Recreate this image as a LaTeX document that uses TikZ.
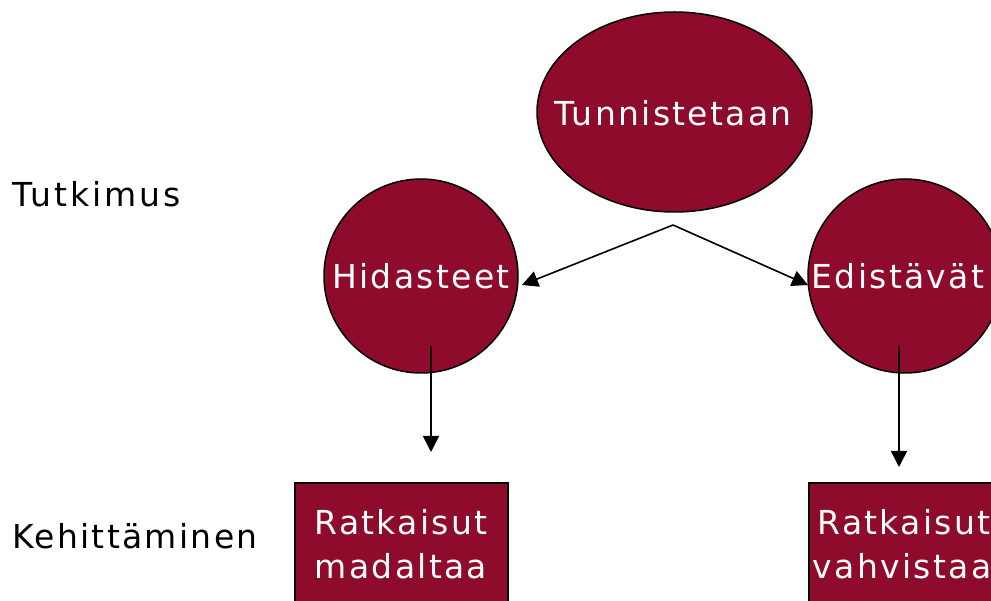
\documentclass[tikz,border=0pt]{standalone}
\usepackage{fontspec}
\setmainfont[LetterSpace=7]{DejaVu Sans}
\usetikzlibrary{shapes.geometric,arrows.meta}
\definecolor{maroon}{RGB}{142,11,44}
\tikzset{
  blob/.style={fill=maroon,draw=black,line width=1.5pt,inner sep=0pt},
  boxnode/.style={fill=maroon,draw=black,line width=1.5pt,inner sep=0pt,anchor=north west},
  lbl/.style={inner sep=0pt,font=\fontsize{33}{44}\selectfont,anchor=base west},
  wtxt/.style={inner sep=0pt,text=white,font=\fontsize{33}{44}\selectfont,anchor=base},
  arr/.style={line width=1.6pt,-{Triangle[length=16pt,width=16pt]}}
}
\begin{document}
\begin{tikzpicture}[x=1pt,y=-1pt]
\useasboundingbox (0,0) rectangle (991,601);
\begin{scope}
\clip (0,0) rectangle (991,601);
\node[blob,ellipse,minimum width=275pt,minimum height=200pt] (tun) at (674.5,112) {};
\node[blob,circle,minimum size=194pt] (hid) at (421,276) {};
\node[blob,circle,minimum size=194pt] (edi) at (905,276) {};
\node[boxnode,minimum width=213pt,minimum height=140pt] (boxl) at (294,482) {};
\node[boxnode,minimum width=213pt,minimum height=140pt] (boxr) at (808,482) {};
\node[wtxt] (ttun) at (673,126) {Tunnistetaan};
\node[wtxt] (thid) at (421,289) {Hidasteet};
\node[wtxt] (tedi) at (898,289) {Edistävät};
\node[wtxt] (tl1) at (401,534) {Ratkaisut};
\node[wtxt] (tl2) at (401,578) {madaltaa};
\node[wtxt] (tr1) at (904,534) {Ratkaisut};
\node[wtxt] (tr2) at (902,578) {vahvistaa};
\end{scope}
\node[lbl] (tut) at (12,207) {\addfontfeature{LetterSpace=9}Tutkimus};
\node[lbl] (keh) at (12,548) {Kehittäminen};
\coordinate (apex) at (673,225);
\coordinate (hidtip) at (522,285);
\coordinate (editip) at (808,285);
\coordinate (hs) at (431,346);
\coordinate (he) at (431,452);
\coordinate (es) at (899,346);
\coordinate (ee) at (899,467);
\draw[arr] (apex) -- (hidtip);
\draw[arr] (apex) -- (editip);
\draw[arr] (hs) -- (he);
\draw[arr] (es) -- (ee);
\end{tikzpicture}
\end{document}
